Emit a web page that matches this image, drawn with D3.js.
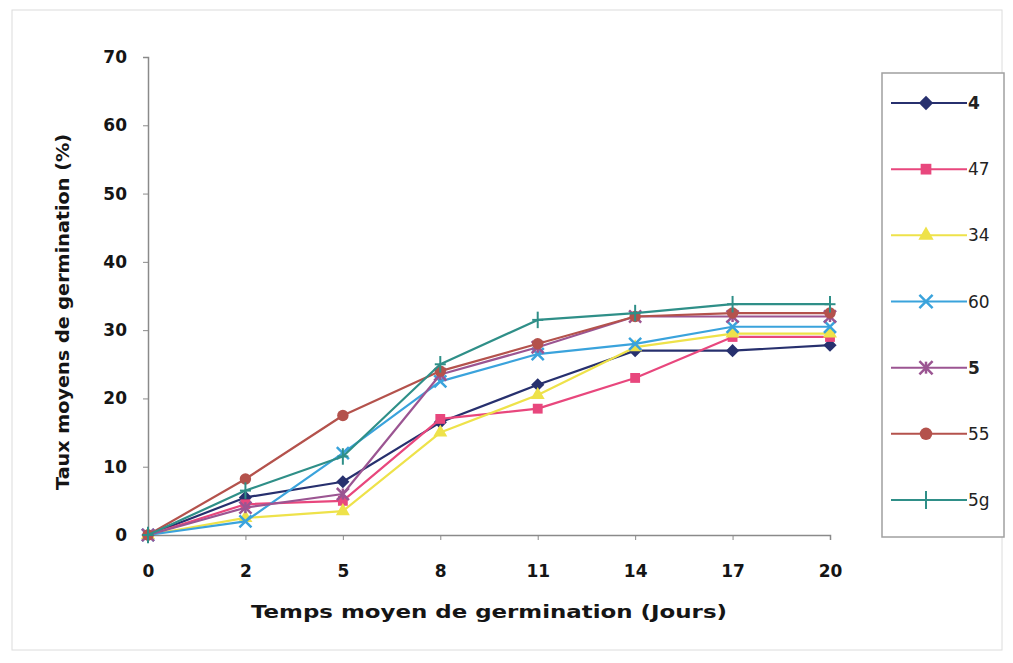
<!DOCTYPE html>
<html>
<head>
<meta charset="utf-8">
<script src="https://cdn.jsdelivr.net/npm/d3@7/dist/d3.min.js"></script>
<style>
  html, body { margin: 0; padding: 0; background: #ffffff; }
  svg { display: block; }
  text { font-family: "DejaVu Sans", "Liberation Sans", Arial, sans-serif; }
</style>
</head>
<body>
<svg id="chart" width="1013" height="663"></svg>
<script>
// Germination days (categories on the x axis)
const days = ["0", "2", "5", "8", "11", "14", "17", "20"];
const yTicks = [0, 10, 20, 30, 40, 50, 60, 70];

// Mean germination rate (%) per line
const seriesNames = ["4", "47", "34", "60", "5", "55", "5g"];
const s4  = [0, 5.5, 7.8, 16.5, 22.0, 27.0, 27.0, 27.8];
const s47 = [0, 4.5, 5.0, 17.0, 18.5, 23.0, 29.0, 29.0];
const s34 = [0, 2.5, 3.5, 15.0, 20.5, 27.5, 29.5, 29.5];
const s60 = [0, 2.0, 12.0, 22.5, 26.5, 28.0, 30.5, 30.5];
const s5  = [0, 4.0, 6.0, 23.5, 27.5, 32.0, 32.0, 32.0];
const s55 = [0, 8.2, 17.5, 24.0, 28.0, 32.0, 32.5, 32.5];
const s5g = [0, 6.5, 11.5, 25.0, 31.5, 32.5, 33.8, 33.8];

const seriesValues = [s4, s47, s34, s60, s5, s55, s5g];
const colors = ["#27306e", "#e8477d", "#eee24a", "#3aa3dc", "#9b5592", "#b4524c", "#2f8f88"];
const shapes = ["diamond", "square", "triangle", "x", "star", "circle", "plus"];

const svg = d3.select("#chart");

// faint outer frame
svg.append("rect")
  .attr("x", 12).attr("y", 10).attr("width", 990).attr("height", 640)
  .attr("fill", "none").attr("stroke", "#dcdcdc").attr("stroke-width", 1);

const plot = { left: 148, right: 830, top: 57, bottom: 535 };

const x = d3.scalePoint().domain(days).range([plot.left, plot.right]).padding(0);
const y = d3.scaleLinear().domain([0, 70]).range([plot.bottom, plot.top]);

// Axes
const xAxis = svg.append("g")
  .attr("transform", `translate(0,${plot.bottom})`)
  .call(d3.axisBottom(x).tickSize(5).tickPadding(25));
const yAxis = svg.append("g")
  .attr("transform", `translate(${plot.left},0)`)
  .call(d3.axisLeft(y).tickValues(yTicks).tickSize(5).tickPadding(16));

[xAxis, yAxis].forEach(g => {
  g.select(".domain").attr("stroke", "#8a8a8a").attr("stroke-width", 1.5);
  g.selectAll(".tick line").attr("stroke", "#8a8a8a");
  g.selectAll(".tick text")
    .attr("fill", "#151515")
    .style("font-size", "17px")
    .style("font-weight", "bold")
    .style("font-family", "'DejaVu Sans', sans-serif");
});

// Axis titles
svg.append("text")
  .attr("x", 489).attr("y", 618)
  .attr("text-anchor", "middle")
  .attr("textLength", 476).attr("lengthAdjust", "spacingAndGlyphs")
  .style("font-size", "17px").style("font-weight", "bold").attr("fill", "#151515")
  .text("Temps moyen de germination (Jours)");

svg.append("text")
  .attr("transform", "translate(69,312) rotate(-90)")
  .attr("text-anchor", "middle")
  .attr("textLength", 356).attr("lengthAdjust", "spacingAndGlyphs")
  .style("font-size", "17px").style("font-weight", "bold").attr("fill", "#151515")
  .text("Taux moyens de germination (%)");

// Marker drawing
function marker(g, shape, color, s) {
  switch (shape) {
    case "diamond": {
      const r = s * 0.6;
      g.append("path").attr("d", `M0,${-r}L${r},0L0,${r}L${-r},0Z`).attr("fill", color);
      break;
    }
    case "square":
      g.append("path").attr("d", d3.symbol(d3.symbolSquare, s * s * 0.8)()).attr("fill", color);
      break;
    case "triangle":
      g.append("path").attr("d", d3.symbol(d3.symbolTriangle, s * s * 0.7)()).attr("fill", color);
      break;
    case "circle":
      g.append("path").attr("d", d3.symbol(d3.symbolCircle, s * s * 0.85)()).attr("fill", color);
      break;
    case "x":
      g.append("path").attr("d", d3.symbol(d3.symbolX, s * s * 0.8)()).attr("fill", "none")
        .attr("stroke", color).attr("stroke-width", 2.5);
      break;
    case "star":
      g.append("path").attr("d", d3.symbol(d3.symbolX, s * s * 0.8)()).attr("fill", "none")
        .attr("stroke", color).attr("stroke-width", 2.5);
      g.append("line").attr("x1", 0).attr("x2", 0).attr("y1", -s / 2).attr("y2", s / 2)
        .attr("stroke", color).attr("stroke-width", 2.5);
      break;
    case "plus":
      g.append("line").attr("x1", 0).attr("x2", 0).attr("y1", -s * 0.75).attr("y2", s * 0.75)
        .attr("stroke", color).attr("stroke-width", 2);
      g.append("line").attr("x1", -s * 0.5).attr("x2", s * 0.5).attr("y1", 0).attr("y2", 0)
        .attr("stroke", color).attr("stroke-width", 2);
      break;
  }
}

const line = d3.line()
  .x((d, i) => x(days[i]))
  .y(d => y(d));

const seriesG = svg.append("g");
seriesValues.forEach((vals, k) => {
  const g = seriesG.append("g");
  g.append("path")
    .datum(vals)
    .attr("d", line)
    .attr("fill", "none")
    .attr("stroke", colors[k])
    .attr("stroke-width", 2.2)
    .attr("stroke-linejoin", "round");
  vals.forEach((v, i) => {
    const m = g.append("g").attr("transform", `translate(${x(days[i])},${y(v)})`);
    marker(m, shapes[k], colors[k], 11);
  });
});

// Legend
const legend = svg.append("g");
legend.append("rect")
  .attr("x", 882).attr("y", 73).attr("width", 122).attr("height", 464)
  .attr("fill", "#fff").attr("stroke", "#a0a0a0").attr("stroke-width", 1.5);

const legendY = d3.scalePoint().domain(seriesNames).range([103, 500]);
seriesNames.forEach((name, k) => {
  const cy = legendY(name);
  const g = legend.append("g");
  g.append("line").attr("x1", 891).attr("x2", 967).attr("y1", cy).attr("y2", cy)
    .attr("stroke", colors[k]).attr("stroke-width", 2);
  const m = g.append("g").attr("transform", `translate(926,${cy})`);
  marker(m, shapes[k], colors[k], 12);
  g.append("text")
    .attr("x", 968).attr("y", cy).attr("dy", "0.36em")
    .style("font-size", "17px")
    .style("font-weight", (name === "4" || name === "5") ? "bold" : "normal")
    .attr("fill", "#222")
    .text(name);
});
</script>
</body>
</html>
